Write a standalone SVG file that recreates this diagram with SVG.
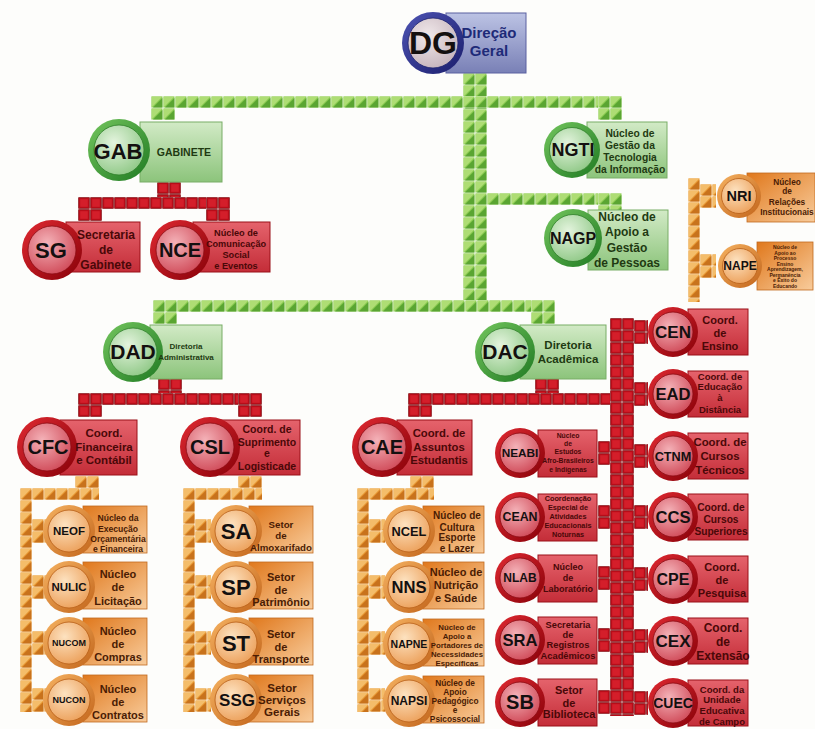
<svg xmlns="http://www.w3.org/2000/svg" width="815" height="729" viewBox="0 0 815 729">
<defs>
<style>
.t{font-family:"Liberation Sans",Arial,sans-serif;font-weight:bold;text-anchor:middle}
.ab{fill:#141010}
.lg{fill:#1f3a12}
.lb{fill:#1e2a78}
.lr{fill:#4a0808}
.lo{fill:#4a1c04}
.rg{fill:url(#gRectG);stroke:#79ad66;stroke-width:1}
.cgo{fill:url(#gRingG)}
.cgi{fill:url(#gInG);stroke:#2f7f2a;stroke-width:.8}
.rr{fill:url(#gRectR);stroke:#9a1018;stroke-width:1}
.cro{fill:url(#gRingR)}
.cri{fill:url(#gInR);stroke:#8a0a12;stroke-width:.8}
.ro{fill:url(#gRectO);stroke:#c06a20;stroke-width:.8}
.coo{fill:url(#gRingO)}
.coi{fill:url(#gInO);stroke:#b85e16;stroke-width:.8}
.rb{fill:url(#gRectB);stroke:#5a60a0;stroke-width:1}
.cbo{fill:url(#gRingB)}
.cbi{fill:url(#gInB);stroke:#20246e;stroke-width:.8}
.tg{fill:url(#tg)}
.tr{fill:url(#tr)}
.to{fill:url(#to)}
</style>
<pattern id="tg" width="12" height="12" patternUnits="userSpaceOnUse">
<rect width="12" height="12" fill="#eef7e6"/>
<rect x="0.6" y="0.6" width="10.8" height="10.8" fill="#86c94c"/>
<polygon points="0.6,0.6 11.4,0.6 0.6,11.4" fill="#aedd74"/>
<polygon points="11.4,2 11.4,11.4 2,11.4" fill="#5aa532"/>
</pattern>
<pattern id="tr" width="12" height="12" patternUnits="userSpaceOnUse">
<rect width="12" height="12" fill="#f1cccc"/>
<rect x="0.7" y="0.7" width="10.6" height="10.6" fill="#b80c18" stroke="#760006" stroke-width="0.6"/>
<rect x="2.2" y="2.2" width="7.6" height="7.6" fill="#d41e2a"/>
</pattern>
<pattern id="to" width="12" height="12" patternUnits="userSpaceOnUse">
<rect width="12" height="12" fill="#fbeedd"/>
<rect x="0.6" y="0.6" width="10.8" height="10.8" fill="#e6952f"/>
<polygon points="0.6,0.6 11.4,0.6 0.6,11.4" fill="#f4bd6a"/>
<polygon points="11.4,2 11.4,11.4 2,11.4" fill="#c8721c"/>
</pattern>
<linearGradient id="gRectG" x1="0" y1="0" x2="0" y2="1"><stop offset="0" stop-color="#d2eac6"/><stop offset="1" stop-color="#8cc47b"/></linearGradient>
<radialGradient id="gInG" cx=".4" cy=".35" r=".7"><stop offset="0" stop-color="#e4f4de"/><stop offset="1" stop-color="#8fc886"/></radialGradient>
<linearGradient id="gRingG" x1="0" y1="0" x2="1" y2="1"><stop offset="0" stop-color="#74c65e"/><stop offset="1" stop-color="#1f7a22"/></linearGradient>
<linearGradient id="gRectR" x1="0" y1="0" x2="0" y2="1"><stop offset="0" stop-color="#e5636c"/><stop offset="1" stop-color="#c42d38"/></linearGradient>
<radialGradient id="gInR" cx=".4" cy=".35" r=".7"><stop offset="0" stop-color="#f4b2b8"/><stop offset="1" stop-color="#d04a58"/></radialGradient>
<linearGradient id="gRingR" x1="0" y1="0" x2="1" y2="1"><stop offset="0" stop-color="#e02a32"/><stop offset="1" stop-color="#880008"/></linearGradient>
<linearGradient id="gRectO" x1="0" y1="0" x2="1" y2="1"><stop offset="0" stop-color="#e0781c"/><stop offset="1" stop-color="#f8cc9c"/></linearGradient>
<radialGradient id="gInO" cx=".4" cy=".35" r=".7"><stop offset="0" stop-color="#fde2c0"/><stop offset="1" stop-color="#eca05a"/></radialGradient>
<linearGradient id="gRingO" x1="0" y1="0" x2="1" y2="1"><stop offset="0" stop-color="#f6b362"/><stop offset="1" stop-color="#c2641a"/></linearGradient>
<linearGradient id="gRectB" x1="0" y1="0" x2="0" y2="1"><stop offset="0" stop-color="#bcc3e4"/><stop offset="1" stop-color="#7980b6"/></linearGradient>
<radialGradient id="gInB" cx=".4" cy=".35" r=".7"><stop offset="0" stop-color="#f0e8ea"/><stop offset="1" stop-color="#c6b4bc"/></radialGradient>
<linearGradient id="gRingB" x1="0" y1="0" x2="1" y2="1"><stop offset="0" stop-color="#4e54b4"/><stop offset="1" stop-color="#1a1d6c"/></linearGradient>
</defs>
<rect width="815" height="729" fill="#fdfdfb"/>

<g id="connectors">
<rect class="tg" transform="translate(463,73)" width="24" height="227"/>
<rect class="tg" transform="translate(151,96)" width="471" height="12"/>
<rect class="tg" transform="translate(151,96)" width="24" height="24"/>
<rect class="tg" transform="translate(598,96)" width="24" height="24"/>
<rect class="tg" transform="translate(487,193)" width="135" height="12"/>
<rect class="tg" transform="translate(598,193)" width="24" height="24"/>
<rect class="tg" transform="translate(153,300)" width="402" height="12"/>
<rect class="tg" transform="translate(153,300)" width="24" height="24"/>
<rect class="tg" transform="translate(531,300)" width="24" height="24"/>
<rect class="tr" transform="translate(157,182)" width="24" height="15"/>
<rect class="tr" transform="translate(78,197)" width="152" height="12"/>
<rect class="tr" transform="translate(78,197)" width="24" height="24"/>
<rect class="tr" transform="translate(206,197)" width="24" height="24"/>
<rect class="tr" transform="translate(158,378)" width="24" height="15"/>
<rect class="tr" transform="translate(78,393)" width="184" height="12"/>
<rect class="tr" transform="translate(78,393)" width="24" height="24"/>
<rect class="tr" transform="translate(238,393)" width="24" height="24"/>
<rect class="tr" transform="translate(535,378)" width="24" height="15"/>
<rect class="tr" transform="translate(408,393)" width="227" height="12"/>
<rect class="tr" transform="translate(408,393)" width="24" height="24"/>
<rect class="tr" transform="translate(610,318)" width="24" height="398"/>
<rect class="tr" transform="translate(634,320)" width="14" height="24"/>
<rect class="tr" transform="translate(634,382)" width="14" height="24"/>
<rect class="tr" transform="translate(634,444)" width="14" height="24"/>
<rect class="tr" transform="translate(634,505)" width="14" height="24"/>
<rect class="tr" transform="translate(634,567)" width="14" height="24"/>
<rect class="tr" transform="translate(634,629)" width="14" height="24"/>
<rect class="tr" transform="translate(634,691)" width="14" height="24"/>
<rect class="tr" transform="translate(598,441)" width="12" height="24"/>
<rect class="tr" transform="translate(598,505)" width="12" height="24"/>
<rect class="tr" transform="translate(598,566)" width="12" height="24"/>
<rect class="tr" transform="translate(598,628)" width="12" height="24"/>
<rect class="tr" transform="translate(598,690)" width="12" height="24"/>
<rect class="to" transform="translate(688,178)" width="12" height="124"/>
<rect class="to" transform="translate(700,184)" width="16" height="24"/>
<rect class="to" transform="translate(700,254)" width="16" height="24"/>
<rect class="to" transform="translate(75,476)" width="24" height="12"/>
<rect class="to" transform="translate(20,488)" width="79" height="12"/>
<rect class="to" transform="translate(20,488)" width="12" height="224"/>
<rect class="to" transform="translate(32,519)" width="14" height="24"/>
<rect class="to" transform="translate(32,575)" width="14" height="24"/>
<rect class="to" transform="translate(32,631)" width="14" height="24"/>
<rect class="to" transform="translate(32,688)" width="14" height="24"/>
<rect class="to" transform="translate(238,476)" width="24" height="12"/>
<rect class="to" transform="translate(183,488)" width="79" height="12"/>
<rect class="to" transform="translate(183,488)" width="12" height="224"/>
<rect class="to" transform="translate(195,519)" width="16" height="24"/>
<rect class="to" transform="translate(195,575)" width="16" height="24"/>
<rect class="to" transform="translate(195,631)" width="16" height="24"/>
<rect class="to" transform="translate(195,688)" width="16" height="24"/>
<rect class="to" transform="translate(410,476)" width="24" height="12"/>
<rect class="to" transform="translate(357,488)" width="77" height="12"/>
<rect class="to" transform="translate(357,488)" width="12" height="224"/>
<rect class="to" transform="translate(369,519)" width="16" height="24"/>
<rect class="to" transform="translate(369,575)" width="16" height="24"/>
<rect class="to" transform="translate(369,631)" width="16" height="24"/>
<rect class="to" transform="translate(369,688)" width="16" height="24"/>
</g>

<g id="n-dg">
<rect class="rb" x="446" y="13" width="80" height="60"/>
<circle class="cbo" cx="433" cy="43" r="31"/><circle class="cbi" cx="433" cy="43" r="25"/>
<text class="t ab" x="433" y="54" font-size="32">DG</text>
<text class="t lb" font-size="15"><tspan x="489" y="38">Direção</tspan><tspan x="489" y="56">Geral</tspan></text>
</g>

<g id="n-gab">
<rect class="rg" x="140" y="122" width="82" height="60"/>
<circle class="cgo" cx="119" cy="150" r="31"/><circle class="cgi" cx="119" cy="150" r="25"/>
<text class="t ab" x="118" y="159" font-size="22">GAB</text>
<text class="t lg" x="184" y="156" font-size="10.5">GABINETE</text>
</g>

<g id="n-ngti">
<rect class="rg" x="587" y="122" width="80" height="56"/>
<circle class="cgo" cx="572" cy="150" r="28"/><circle class="cgi" cx="572" cy="150" r="22.5"/>
<text class="t ab" x="573" y="156" font-size="18">NGTI</text>
<text class="t lg" font-size="10.3"><tspan x="630" y="136.5">Núcleo de</tspan><tspan x="630" y="148.5">Gestão da</tspan><tspan x="630" y="160.5">Tecnologia</tspan><tspan x="630" y="172.5">da Informação</tspan></text>
</g>

<g id="n-nagp">
<rect class="rg" x="588" y="210" width="80" height="60"/>
<circle class="cgo" cx="573" cy="238" r="29"/><circle class="cgi" cx="573" cy="238" r="23.5"/>
<text class="t ab" x="573" y="244" font-size="16">NAGP</text>
<text class="t lg" font-size="12"><tspan x="627" y="221">Núcleo de</tspan><tspan x="627" y="236">Apoio a</tspan><tspan x="627" y="252">Gestão</tspan><tspan x="627" y="267">de Pessoas</tspan></text>
</g>

<g id="n-nri">
<rect class="ro" x="747" y="173" width="68" height="49"/>
<circle class="coo" cx="739" cy="196" r="22"/><circle class="coi" cx="739" cy="196" r="17.5"/>
<text class="t ab" x="739" y="201" font-size="14.5">NRI</text>
<text class="t lo" font-size="8.3"><tspan x="787" y="185">Núcleo</tspan><tspan x="787" y="194">de</tspan><tspan x="787" y="205">Relações</tspan><tspan x="787" y="215">Institucionais</tspan></text>
</g>

<g id="n-nape">
<rect class="ro" x="757" y="242" width="56" height="48"/>
<circle class="coo" cx="740" cy="266" r="22"/><circle class="coi" cx="740" cy="266" r="17.5"/>
<text class="t ab" x="740" y="270" font-size="12">NAPE</text>
<text class="t lo" font-size="5"><tspan x="785" y="249">Núcleo de</tspan><tspan x="785" y="254.5">Apoio ao</tspan><tspan x="785" y="260">Processo</tspan><tspan x="785" y="265.5">Ensino</tspan><tspan x="785" y="271">Aprendizagem,</tspan><tspan x="785" y="276.5">Permanência</tspan><tspan x="785" y="282">e Êxito do</tspan><tspan x="785" y="287.5">Educando</tspan></text>
</g>

<g id="n-sg">
<rect class="rr" x="66" y="222" width="74" height="50"/>
<circle class="cro" cx="52" cy="250" r="30"/><circle class="cri" cx="52" cy="250" r="24"/>
<text class="t ab" x="51" y="258" font-size="22">SG</text>
<text class="t lr" font-size="12"><tspan x="106" y="239">Secretaria</tspan><tspan x="106" y="254">de</tspan><tspan x="106" y="269">Gabinete</tspan></text>
</g>

<g id="n-nce">
<rect class="rr" x="193" y="222" width="77" height="50"/>
<circle class="cro" cx="180" cy="250" r="30"/><circle class="cri" cx="180" cy="250" r="24"/>
<text class="t ab" x="180" y="257" font-size="20">NCE</text>
<text class="t lr" font-size="9.2"><tspan x="236" y="236">Núcleo de</tspan><tspan x="236" y="247">Comunicação</tspan><tspan x="236" y="258">Social</tspan><tspan x="236" y="269">e Eventos</tspan></text>
</g>

<g id="n-dad">
<rect class="rg" x="150" y="325" width="72" height="54"/>
<circle class="cgo" cx="133" cy="352" r="30"/><circle class="cgi" cx="133" cy="352" r="24"/>
<text class="t ab" x="133" y="359" font-size="21">DAD</text>
<text class="t lg" font-size="8"><tspan x="186" y="349">Diretoria</tspan><tspan x="186" y="360">Administrativa</tspan></text>
</g>

<g id="n-dac">
<rect class="rg" x="520" y="325" width="86" height="54"/>
<circle class="cgo" cx="505" cy="352" r="30"/><circle class="cgi" cx="505" cy="352" r="24"/>
<text class="t ab" x="505" y="359" font-size="21">DAC</text>
<text class="t lg" font-size="11.5"><tspan x="568" y="349">Diretoria</tspan><tspan x="568" y="363">Acadêmica</tspan></text>
</g>

<g id="n-cfc">
<rect class="rr" x="60" y="420" width="77" height="55"/>
<circle class="cro" cx="47" cy="447" r="30"/><circle class="cri" cx="47" cy="447" r="24"/>
<text class="t ab" x="48" y="454" font-size="20">CFC</text>
<text class="t lr" font-size="11.5"><tspan x="104" y="437">Coord.</tspan><tspan x="104" y="451">Financeira</tspan><tspan x="104" y="464">e Contábil</tspan></text>
</g>

<g id="n-csl">
<rect class="rr" x="220" y="420" width="80" height="55"/>
<circle class="cro" cx="210" cy="447" r="30"/><circle class="cri" cx="210" cy="447" r="24"/>
<text class="t ab" x="210" y="454" font-size="20">CSL</text>
<text class="t lr" font-size="10.5"><tspan x="267" y="433">Coord. de</tspan><tspan x="267" y="446">Suprimento</tspan><tspan x="267" y="457">e</tspan><tspan x="267" y="470">Logisticade</tspan></text>
</g>

<g id="n-cae">
<rect class="rr" x="397" y="420" width="75" height="55"/>
<circle class="cro" cx="382" cy="447" r="30"/><circle class="cri" cx="382" cy="447" r="24"/>
<text class="t ab" x="382" y="454" font-size="20">CAE</text>
<text class="t lr" font-size="11.3"><tspan x="439" y="437">Coord. de</tspan><tspan x="439" y="451">Assuntos</tspan><tspan x="439" y="464">Estudantis</tspan></text>
</g>

<g id="n-neof">
<rect class="ro" x="83" y="506" width="64" height="47"/>
<circle class="coo" cx="69" cy="531" r="26"/><circle class="coi" cx="69" cy="531" r="21"/>
<text class="t ab" x="69" y="535" font-size="11.5">NEOF</text>
<text class="t lo" font-size="8.6"><tspan x="118" y="521">Núcleo da</tspan><tspan x="118" y="532">Execução</tspan><tspan x="118" y="542">Orçamentária</tspan><tspan x="118" y="552">e Financeira</tspan></text>
</g>
<g id="n-nulic">
<rect class="ro" x="83" y="562" width="64" height="47"/>
<circle class="coo" cx="69" cy="587" r="26"/><circle class="coi" cx="69" cy="587" r="21"/>
<text class="t ab" x="69" y="591" font-size="11.5">NULIC</text>
<text class="t lo" font-size="11"><tspan x="118" y="578">Núcleo</tspan><tspan x="118" y="591">de</tspan><tspan x="118" y="605">Licitação</tspan></text>
</g>
<g id="n-nucom">
<rect class="ro" x="83" y="618" width="64" height="47"/>
<circle class="coo" cx="69" cy="643" r="26"/><circle class="coi" cx="69" cy="643" r="21"/>
<text class="t ab" x="69" y="646" font-size="9">NUCOM</text>
<text class="t lo" font-size="11"><tspan x="118" y="635">Núcleo</tspan><tspan x="118" y="648">de</tspan><tspan x="118" y="661">Compras</tspan></text>
</g>
<g id="n-nucon">
<rect class="ro" x="83" y="675" width="64" height="47"/>
<circle class="coo" cx="69" cy="700" r="26"/><circle class="coi" cx="69" cy="700" r="21"/>
<text class="t ab" x="69" y="703" font-size="9">NUCON</text>
<text class="t lo" font-size="11"><tspan x="118" y="693">Núcleo</tspan><tspan x="118" y="706">de</tspan><tspan x="118" y="719">Contratos</tspan></text>
</g>

<g id="n-sa">
<rect class="ro" x="249" y="506" width="64" height="47"/>
<circle class="coo" cx="236" cy="531" r="26"/><circle class="coi" cx="236" cy="531" r="21"/>
<text class="t ab" x="236" y="539" font-size="22">SA</text>
<text class="t lo" font-size="9.7"><tspan x="281" y="527.5">Setor</tspan><tspan x="281" y="538.5">de</tspan><tspan x="281" y="550.5">Almoxarifado</tspan></text>
</g>
<g id="n-sp">
<rect class="ro" x="249" y="562" width="64" height="47"/>
<circle class="coo" cx="236" cy="587" r="26"/><circle class="coi" cx="236" cy="587" r="21"/>
<text class="t ab" x="236" y="595" font-size="22">SP</text>
<text class="t lo" font-size="11"><tspan x="281" y="581">Setor</tspan><tspan x="281" y="594">de</tspan><tspan x="281" y="606">Patrimônio</tspan></text>
</g>
<g id="n-st">
<rect class="ro" x="249" y="618" width="64" height="47"/>
<circle class="coo" cx="236" cy="643" r="26"/><circle class="coi" cx="236" cy="643" r="21"/>
<text class="t ab" x="236" y="651" font-size="22">ST</text>
<text class="t lo" font-size="11"><tspan x="281" y="638">Setor</tspan><tspan x="281" y="651">de</tspan><tspan x="281" y="663">Transporte</tspan></text>
</g>
<g id="n-ssg">
<rect class="ro" x="249" y="675" width="64" height="47"/>
<circle class="coo" cx="236" cy="700" r="26"/><circle class="coi" cx="236" cy="700" r="21"/>
<text class="t ab" x="237" y="706" font-size="17">SSG</text>
<text class="t lo" font-size="11.5"><tspan x="282" y="692">Setor</tspan><tspan x="282" y="704">Serviços</tspan><tspan x="282" y="716">Gerais</tspan></text>
</g>

<g id="n-ncel">
<rect class="ro" x="423" y="506" width="61" height="47"/>
<circle class="coo" cx="409" cy="531" r="26"/><circle class="coi" cx="409" cy="531" r="21"/>
<text class="t ab" x="409" y="535.5" font-size="12.8">NCEL</text>
<text class="t lo" font-size="10"><tspan x="457" y="518.5">Núcleo de</tspan><tspan x="457" y="530.5">Cultura</tspan><tspan x="457" y="540.5">Esporte</tspan><tspan x="457" y="551.5">e Lazer</tspan></text>
</g>
<g id="n-nns">
<rect class="ro" x="423" y="562" width="61" height="47"/>
<circle class="coo" cx="409" cy="587" r="26"/><circle class="coi" cx="409" cy="587" r="21"/>
<text class="t ab" x="409" y="593" font-size="16.6">NNS</text>
<text class="t lo" font-size="11"><tspan x="456" y="576">Núcleo de</tspan><tspan x="456" y="589">Nutrição</tspan><tspan x="456" y="602">e Saúde</tspan></text>
</g>
<g id="n-napne">
<rect class="ro" x="423" y="619" width="61" height="47"/>
<circle class="coo" cx="409" cy="644" r="26"/><circle class="coi" cx="409" cy="644" r="21"/>
<text class="t ab" x="409" y="648" font-size="10.5">NAPNE</text>
<text class="t lo" font-size="7.8"><tspan x="457" y="629.7">Núcleo de</tspan><tspan x="457" y="638.7">Apoio a</tspan><tspan x="457" y="647.7">Portadores de</tspan><tspan x="457" y="656.7">Necessidades</tspan><tspan x="457" y="665.7">Específicas</tspan></text>
</g>
<g id="n-napsi">
<rect class="ro" x="423" y="676" width="61" height="47"/>
<circle class="coo" cx="409" cy="701" r="26"/><circle class="coi" cx="409" cy="701" r="21"/>
<text class="t ab" x="409" y="705" font-size="12">NAPSI</text>
<text class="t lo" font-size="8.3"><tspan x="455" y="686">Núcleo de</tspan><tspan x="455" y="695">Apoio</tspan><tspan x="455" y="704">Pedagógico</tspan><tspan x="455" y="713">e</tspan><tspan x="455" y="722">Psicossocial</tspan></text>
</g>

<g id="n-neabi">
<rect class="rr" x="538" y="430" width="59" height="47"/>
<circle class="cro" cx="520" cy="453" r="25"/><circle class="cri" cx="520" cy="453" r="20"/>
<text class="t ab" x="520" y="457" font-size="11.8">NEABI</text>
<text class="t lr" font-size="6.8"><tspan x="568" y="438">Núcleo</tspan><tspan x="568" y="446">de</tspan><tspan x="568" y="454">Estudos</tspan><tspan x="568" y="463">Afro-Brasileiros</tspan><tspan x="568" y="472">e Indígenas</tspan></text>
</g>
<g id="n-cean">
<rect class="rr" x="538" y="494" width="59" height="47"/>
<circle class="cro" cx="520" cy="517" r="25"/><circle class="cri" cx="520" cy="517" r="20"/>
<text class="t ab" x="520" y="521" font-size="12.4">CEAN</text>
<text class="t lr" font-size="7.3"><tspan x="568" y="500.6">Coordenação</tspan><tspan x="568" y="509.6">Especial de</tspan><tspan x="568" y="518.6">Atividades</tspan><tspan x="568" y="527.6">Educacionais</tspan><tspan x="568" y="536.6">Noturnas</tspan></text>
</g>
<g id="n-nlab">
<rect class="rr" x="538" y="555" width="59" height="47"/>
<circle class="cro" cx="520" cy="578" r="25"/><circle class="cri" cx="520" cy="578" r="20"/>
<text class="t ab" x="520" y="582" font-size="12">NLAB</text>
<text class="t lr" font-size="9"><tspan x="568" y="570">Núcleo</tspan><tspan x="568" y="581">de</tspan><tspan x="568" y="592">Laboratório</tspan></text>
</g>
<g id="n-sra">
<rect class="rr" x="538" y="617" width="59" height="47"/>
<circle class="cro" cx="520" cy="640" r="25"/><circle class="cri" cx="520" cy="640" r="20"/>
<text class="t ab" x="520" y="646" font-size="16.6">SRA</text>
<text class="t lr" font-size="9.3"><tspan x="568" y="628.3">Secretaria</tspan><tspan x="568" y="638.3">de</tspan><tspan x="568" y="648.3">Registros</tspan><tspan x="568" y="659.3">Acadêmicos</tspan></text>
</g>
<g id="n-sb">
<rect class="rr" x="538" y="679" width="59" height="47"/>
<circle class="cro" cx="520" cy="702" r="25"/><circle class="cri" cx="520" cy="702" r="20"/>
<text class="t ab" x="520" y="709" font-size="20">SB</text>
<text class="t lr" font-size="11"><tspan x="569" y="694">Setor</tspan><tspan x="569" y="707">de</tspan><tspan x="569" y="718">Biblioteca</tspan></text>
</g>

<g id="n-cen">
<rect class="rr" x="688" y="309" width="60" height="46"/>
<circle class="cro" cx="673" cy="332" r="25"/><circle class="cri" cx="673" cy="332" r="20"/>
<text class="t ab" x="673" y="338" font-size="17">CEN</text>
<text class="t lr" font-size="11"><tspan x="720" y="324">Coord.</tspan><tspan x="720" y="337">de</tspan><tspan x="720" y="350">Ensino</tspan></text>
</g>
<g id="n-ead">
<rect class="rr" x="688" y="371" width="60" height="46"/>
<circle class="cro" cx="673" cy="394" r="25"/><circle class="cri" cx="673" cy="394" r="20"/>
<text class="t ab" x="673" y="400" font-size="16.6">EAD</text>
<text class="t lr" font-size="9.5"><tspan x="720" y="380.3">Coord. de</tspan><tspan x="720" y="390.3">Educação</tspan><tspan x="720" y="401.3">à</tspan><tspan x="720" y="413.3">Distância</tspan></text>
</g>
<g id="n-ctnm">
<rect class="rr" x="688" y="433" width="60" height="46"/>
<circle class="cro" cx="673" cy="456" r="25"/><circle class="cri" cx="673" cy="456" r="20"/>
<text class="t ab" x="673" y="460.5" font-size="12.7">CTNM</text>
<text class="t lr" font-size="11.4"><tspan x="720" y="446">Coord. de</tspan><tspan x="720" y="460">Cursos</tspan><tspan x="720" y="474">Técnicos</tspan></text>
</g>
<g id="n-ccs">
<rect class="rr" x="688" y="494" width="60" height="46"/>
<circle class="cro" cx="673" cy="517" r="25"/><circle class="cri" cx="673" cy="517" r="20"/>
<text class="t ab" x="673" y="523" font-size="16.6">CCS</text>
<text class="t lr" font-size="10.2"><tspan x="721" y="510.6">Coord. de</tspan><tspan x="721" y="522.6">Cursos</tspan><tspan x="721" y="534.6">Superiores</tspan></text>
</g>
<g id="n-cpe">
<rect class="rr" x="688" y="556" width="60" height="46"/>
<circle class="cro" cx="673" cy="579" r="25"/><circle class="cri" cx="673" cy="579" r="20"/>
<text class="t ab" x="673" y="585" font-size="16">CPE</text>
<text class="t lr" font-size="11"><tspan x="722" y="570.5">Coord.</tspan><tspan x="722" y="583.5">de</tspan><tspan x="722" y="596.5">Pesquisa</tspan></text>
</g>
<g id="n-cex">
<rect class="rr" x="688" y="618" width="60" height="46"/>
<circle class="cro" cx="673" cy="641" r="25"/><circle class="cri" cx="673" cy="641" r="20"/>
<text class="t ab" x="673" y="647" font-size="17">CEX</text>
<text class="t lr" font-size="12"><tspan x="723" y="632">Coord.</tspan><tspan x="723" y="646">de</tspan><tspan x="723" y="660">Extensão</tspan></text>
</g>
<g id="n-cuec">
<rect class="rr" x="688" y="680" width="60" height="46"/>
<circle class="cro" cx="673" cy="703" r="25"/><circle class="cri" cx="673" cy="703" r="20"/>
<text class="t ab" x="673" y="708" font-size="14">CUEC</text>
<text class="t lr" font-size="9.5"><tspan x="722" y="693.3">Coord. da</tspan><tspan x="722" y="703.3">Unidade</tspan><tspan x="722" y="714.3">Educativa</tspan><tspan x="722" y="725.3">de Campo</tspan></text>
</g>
</svg>
